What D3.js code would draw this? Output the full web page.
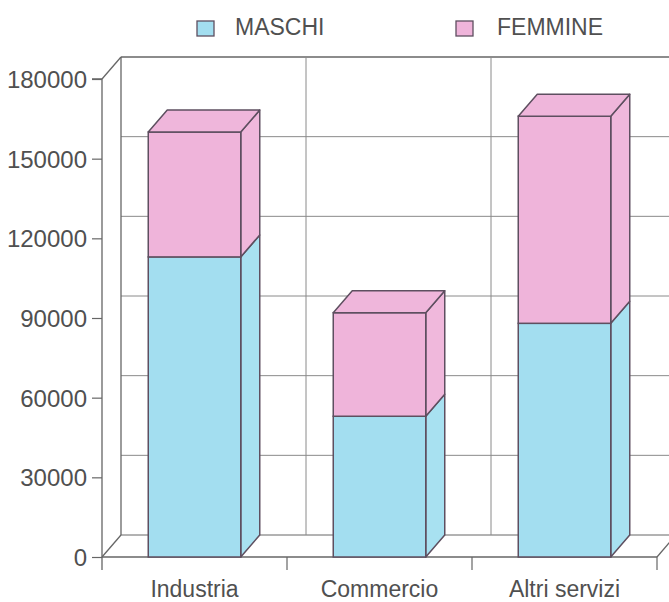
<!DOCTYPE html>
<html><head><meta charset="utf-8">
<script src="https://cdn.jsdelivr.net/npm/d3@7"></script>
<style>body{margin:0;background:#fff}svg{display:block}</style>
</head><body>
<svg id="c" width="669" height="602"></svg>
<script>
const categories = ["Industria", "Commercio", "Altri servizi"];
const maschi = [113000, 53000, 88000];
const femmine = [47000, 39000, 78000];
const seriesNames = ["MASCHI", "FEMMINE"];
const yTicks = [0, 30000, 60000, 90000, 120000, 150000, 180000];

const colors = {MASCHI: "#a3def0", FEMMINE: "#efb4da"};
const sideColors = {MASCHI: "#a8e1f1", FEMMINE: "#f0b8dc"};
const topColors = {MASCHI: "#a8e1f1", FEMMINE: "#efb6db"};
const outline = "#5e4f60";
const gridCol = "#8a8a8a";
const axisCol = "#666";
const textCol = "#505050";
const font = "'Liberation Sans', Arial, sans-serif";

const svg = d3.select("#c");
const dx = 19, dy = -22;
const x = d3.scaleBand().domain(categories).range([102, 657]).paddingInner(0.5).paddingOuter(0.25);
const y = d3.scaleLinear().domain([0, 180000]).range([557, 79]);
const x0 = 102, x1 = 669;

const g = svg.append("g");
yTicks.forEach(t => {
  g.append("line").attr("x1", x0 + dx).attr("x2", x1).attr("y1", y(t) + dy).attr("y2", y(t) + dy)
    .attr("stroke", t === 0 || t === 180000 ? axisCol : gridCol).attr("stroke-width", t === 180000 ? 1.5 : 1);
});
const step = x.step();
const bounds = [102 + step, 102 + 2 * step, 102 + 3 * step];
bounds.forEach(b => {
  g.append("line").attr("x1", b + dx).attr("x2", b + dx).attr("y1", y(180000) + dy).attr("y2", y(0) + dy)
    .attr("stroke", gridCol).attr("stroke-width", 1);
});
g.append("line").attr("x1", x0 + dx).attr("x2", x0 + dx).attr("y1", y(180000) + dy).attr("y2", y(0) + dy).attr("stroke", axisCol).attr("stroke-width", 1.3);
g.append("line").attr("x1", x0).attr("x2", x0 + dx).attr("y1", y(180000)).attr("y2", y(180000) + dy).attr("stroke", axisCol).attr("stroke-width", 1.3);
g.append("line").attr("x1", x0).attr("x2", x0 + dx).attr("y1", y(0)).attr("y2", y(0) + dy).attr("stroke", axisCol).attr("stroke-width", 1.3);
g.append("line").attr("x1", x0).attr("x2", 657).attr("y1", y(0)).attr("y2", y(0)).attr("stroke", axisCol).attr("stroke-width", 1.5);
g.append("line").attr("x1", 657).attr("x2", 657 + dx).attr("y1", y(0)).attr("y2", y(0) + dy).attr("stroke", axisCol).attr("stroke-width", 1.3);

const yAxis = d3.axisLeft(y).tickValues(yTicks).tickSize(10).tickPadding(5).tickFormat(d3.format("d"));
const ya = svg.append("g").attr("transform", `translate(${x0},0)`).call(yAxis);
ya.select(".domain").attr("stroke", axisCol).attr("stroke-width", 1.3).attr("d", `M-10,${y(180000)}H0V${y(0) + 13}`);
ya.selectAll(".tick line").attr("stroke", axisCol).attr("stroke-width", 1.2);
ya.selectAll(".tick text").attr("fill", textCol).style("font-family", font).style("font-size", "24px").attr("dy", "0.36em");

const xa = svg.append("g").attr("transform", `translate(0,${y(0)})`);
bounds.forEach(b => {
  xa.append("line").attr("x1", b).attr("x2", b).attr("y1", 0).attr("y2", 13).attr("stroke", axisCol).attr("stroke-width", 1.2);
});
categories.forEach(c => {
  xa.append("text").attr("x", x(c) + x.bandwidth() / 2).attr("y", 40).attr("text-anchor", "middle")
    .attr("fill", textCol).style("font-family", font).style("font-size", "23px").text(c);
});

const stackData = categories.map((c, i) => ({cat: c, MASCHI: maschi[i], FEMMINE: femmine[i]}));
const stack = d3.stack().keys(seriesNames)(stackData);
const bars = svg.append("g");
categories.forEach((c, i) => {
  const bx0 = x(c), bx1 = x(c) + x.bandwidth();
  stack.forEach((layer, li) => {
    const key = layer.key;
    const [v0, v1] = layer[i];
    const yb = y(v0), yt = y(v1);
    bars.append("path").attr("d", `M${bx1},${yb}L${bx1 + dx},${yb + dy}L${bx1 + dx},${yt + dy}L${bx1},${yt}Z`)
      .attr("fill", sideColors[key]).attr("stroke", outline).attr("stroke-width", 1.5).attr("stroke-linejoin", "round");
    bars.append("rect").attr("x", bx0).attr("y", yt).attr("width", bx1 - bx0).attr("height", yb - yt)
      .attr("fill", colors[key]).attr("stroke", outline).attr("stroke-width", 1.5);
    if (li === stack.length - 1) {
      bars.append("path").attr("d", `M${bx0},${yt}L${bx0 + dx},${yt + dy}L${bx1 + dx},${yt + dy}L${bx1},${yt}Z`)
        .attr("fill", topColors[key]).attr("stroke", outline).attr("stroke-width", 1.5).attr("stroke-linejoin", "round");
    }
  });
});

const leg = svg.append("g");
const legPos = [{x: 197, tx: 235}, {x: 456, tx: 497}];
seriesNames.forEach((s, i) => {
  leg.append("rect").attr("x", legPos[i].x).attr("y", 21).attr("width", 17).attr("height", 15)
    .attr("fill", colors[s]).attr("stroke", outline).attr("stroke-width", 1.3);
  leg.append("text").attr("x", legPos[i].tx).attr("y", 35).attr("fill", textCol)
    .style("font-family", font).style("font-size", "23px").text(s);
});
</script>
</body></html>
